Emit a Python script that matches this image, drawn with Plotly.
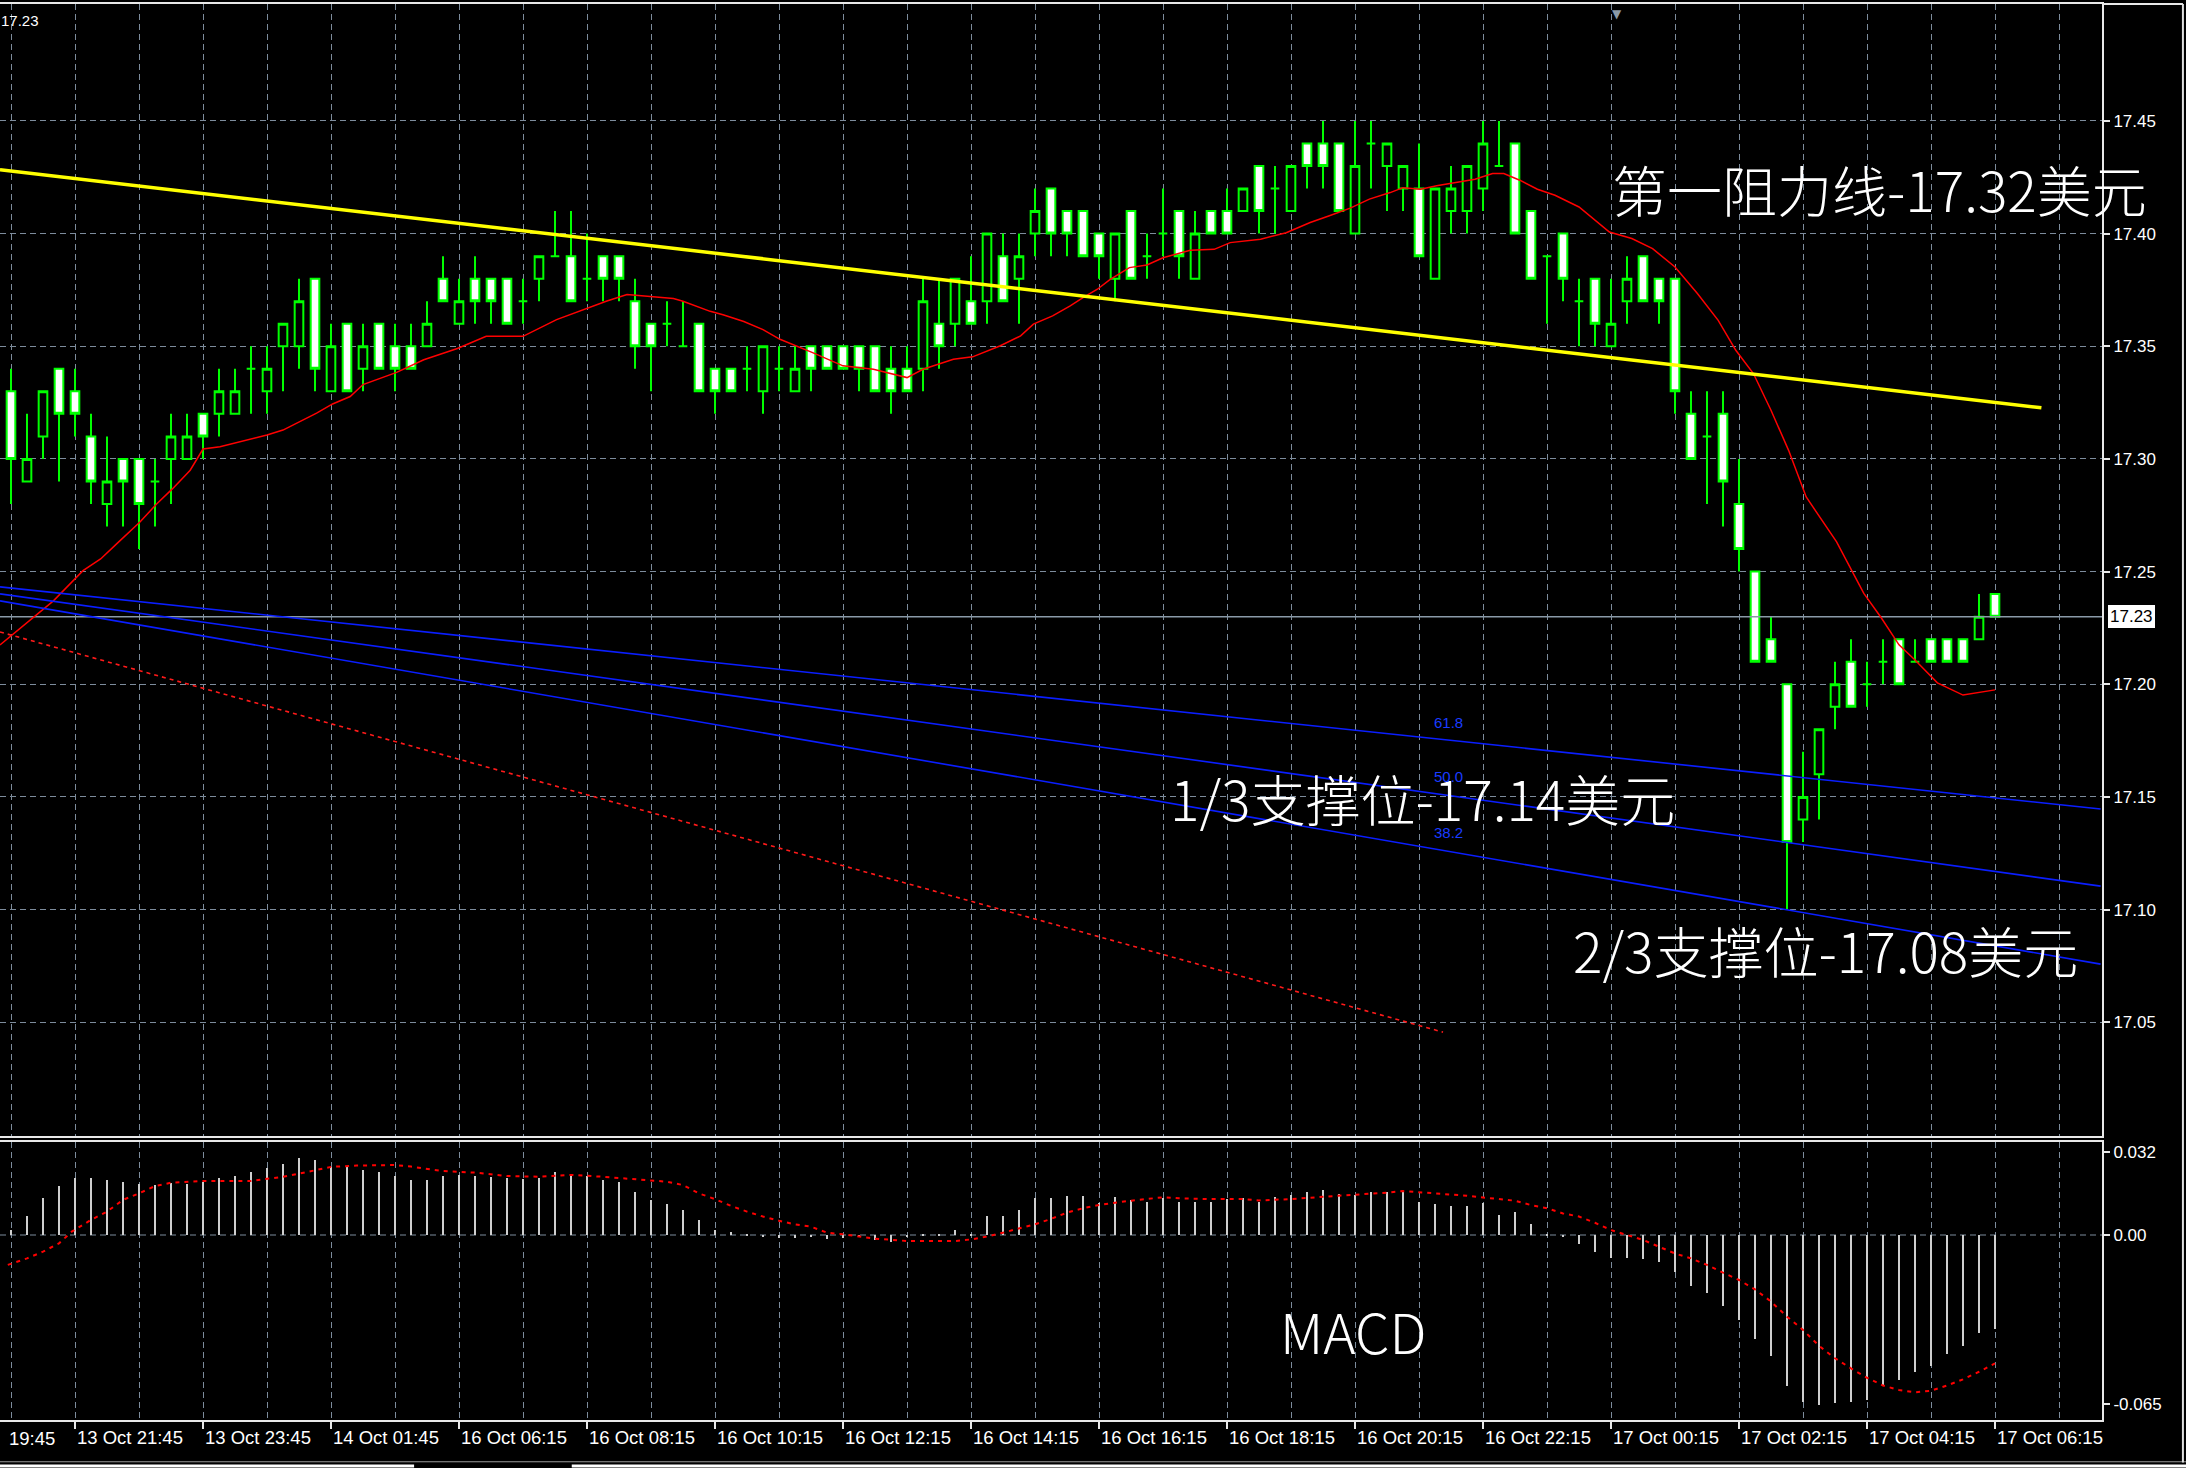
import plotly.graph_objects as go

# ---------------- data ----------------
bars = list(range(125))
opens = [17.33,17.29,17.31,17.34,17.33,17.31,17.28,17.30,17.30,17.29,
         17.30,17.30,17.32,17.32,17.32,17.34,17.33,17.35,17.35,17.38,
         17.33,17.36,17.34,17.36,17.35,17.35,17.35,17.38,17.36,17.38,
         17.38,17.38,17.37,17.38,17.39,17.39,17.38,17.39,17.39,17.37,
         17.36,17.36,17.35,17.36,17.34,17.34,17.34,17.33,17.34,17.33,
         17.35,17.35,17.35,17.35,17.35,17.34,17.34,17.34,17.36,17.36,
         17.37,17.37,17.39,17.38,17.40,17.42,17.41,17.41,17.40,17.38,
         17.41,17.39,17.40,17.41,17.38,17.41,17.41,17.41,17.43,17.42,
         17.41,17.44,17.44,17.44,17.40,17.44,17.43,17.42,17.42,17.38,
         17.41,17.41,17.42,17.43,17.44,17.41,17.39,17.40,17.37,17.38,
         17.35,17.37,17.39,17.38,17.38,17.32,17.31,17.32,17.28,17.25,
         17.22,17.20,17.14,17.16,17.19,17.21,17.20,17.21,17.22,17.21,
         17.22,17.22,17.22,17.22,17.24]
highs = [17.34,17.32,17.33,17.34,17.34,17.32,17.31,17.30,17.30,17.30,
         17.32,17.32,17.32,17.34,17.34,17.35,17.35,17.36,17.38,17.38,
         17.36,17.36,17.36,17.36,17.36,17.36,17.37,17.39,17.38,17.39,
         17.38,17.38,17.38,17.39,17.41,17.41,17.40,17.39,17.39,17.38,
         17.36,17.37,17.37,17.36,17.34,17.34,17.35,17.35,17.35,17.35,
         17.35,17.35,17.35,17.35,17.35,17.35,17.35,17.38,17.38,17.38,
         17.39,17.40,17.40,17.40,17.42,17.42,17.41,17.41,17.40,17.40,
         17.41,17.40,17.42,17.41,17.41,17.41,17.42,17.42,17.43,17.43,
         17.43,17.44,17.45,17.44,17.45,17.45,17.44,17.43,17.44,17.42,
         17.43,17.43,17.45,17.45,17.44,17.41,17.39,17.40,17.38,17.38,
         17.38,17.39,17.39,17.38,17.38,17.33,17.33,17.33,17.30,17.25,
         17.23,17.20,17.17,17.18,17.21,17.22,17.21,17.22,17.22,17.22,
         17.22,17.22,17.22,17.24,17.24]
lows = [17.28,17.29,17.30,17.29,17.31,17.28,17.27,17.27,17.26,17.27,
        17.28,17.30,17.30,17.31,17.32,17.32,17.32,17.33,17.34,17.33,
        17.33,17.33,17.33,17.34,17.33,17.34,17.35,17.37,17.36,17.36,
        17.36,17.36,17.36,17.37,17.39,17.37,17.37,17.37,17.37,17.34,
        17.33,17.35,17.35,17.33,17.32,17.33,17.33,17.32,17.33,17.33,
        17.33,17.34,17.34,17.33,17.33,17.32,17.33,17.33,17.34,17.35,
        17.36,17.36,17.37,17.36,17.39,17.39,17.39,17.39,17.38,17.37,
        17.38,17.38,17.39,17.38,17.38,17.40,17.40,17.41,17.40,17.40,
        17.41,17.42,17.42,17.41,17.40,17.42,17.41,17.41,17.39,17.38,
        17.40,17.40,17.41,17.43,17.40,17.38,17.36,17.37,17.35,17.35,
        17.35,17.36,17.37,17.36,17.32,17.30,17.28,17.27,17.25,17.21,
        17.21,17.10,17.13,17.14,17.18,17.19,17.19,17.20,17.20,17.21,
        17.21,17.21,17.21,17.22,17.23]
closes = [17.30,17.30,17.33,17.32,17.32,17.29,17.29,17.29,17.28,17.29,
          17.31,17.31,17.31,17.33,17.33,17.34,17.34,17.36,17.37,17.34,
          17.35,17.33,17.35,17.34,17.34,17.34,17.36,17.37,17.37,17.37,
          17.37,17.36,17.37,17.39,17.39,17.37,17.38,17.38,17.38,17.35,
          17.35,17.36,17.35,17.33,17.33,17.33,17.34,17.35,17.34,17.34,
          17.34,17.34,17.34,17.34,17.33,17.33,17.33,17.37,17.35,17.38,
          17.36,17.40,17.37,17.39,17.41,17.40,17.40,17.39,17.39,17.40,
          17.38,17.39,17.40,17.39,17.40,17.40,17.40,17.42,17.41,17.42,
          17.43,17.43,17.43,17.41,17.43,17.44,17.44,17.43,17.39,17.42,
          17.42,17.43,17.44,17.43,17.40,17.38,17.39,17.38,17.37,17.36,
          17.36,17.38,17.37,17.37,17.33,17.30,17.31,17.29,17.26,17.21,
          17.21,17.13,17.15,17.18,17.20,17.19,17.20,17.21,17.20,17.21,
          17.21,17.21,17.21,17.23,17.23]

ma_x = [-0.69,2.65,4.5,5.6,6.6,8.06,9.1,10.1,11.2,12.0,13.06,14.3,16,17,18.1,19.1,20.1,
        21.2,22,23.1,24.1,25.8,27.9,29.7,32,34.1,35.8,37.2,38.5,39.9,41.4,42.0,43.7,
        44.5,45.8,47.0,48.06,50.1,52.0,53.9,56.0,57.0,58.9,60.1,61.8,63.1,63.9,65.1,
        66.2,67.0,67.9,68.7,69.9,71.0,72.0,73.7,75.2,76.2,78.1,79.7,81.2,82.4,83.7,
        84.9,86.2,87.0,88.1,89.1,90.3,91.5,92.6,93.3,94.3,95.4,96.5,98.0,99.9,101.3,
        102.6,104.0,105.4,106.7,107.8,108.9,110.0,111.1,112.2,114.1,115.8,116.9,
        118.0,119.0,120.4,122.0,124.0]
ma_y = [17.2174,17.237,17.2504,17.2556,17.2623,17.272,17.280,17.2868,17.295,17.3044,
        17.3054,17.3077,17.3106,17.3128,17.3166,17.3203,17.3244,17.3277,17.333,17.3359,
        17.3384,17.344,17.349,17.3544,17.3544,17.3618,17.3663,17.37,17.373,17.3722,
        17.3712,17.370,17.3655,17.364,17.361,17.3574,17.3531,17.3472,17.3413,17.3398,
        17.3361,17.3398,17.3442,17.3453,17.3501,17.3546,17.3598,17.3635,17.3679,17.3716,
        17.3753,17.3797,17.3849,17.3861,17.3893,17.3926,17.393,17.396,17.3975,17.4004,
        17.4049,17.4079,17.4113,17.4153,17.4182,17.4204,17.4197,17.4212,17.4227,17.4241,
        17.4267,17.4267,17.4237,17.4197,17.417,17.4118,17.4007,17.3978,17.3933,17.3852,
        17.3734,17.3615,17.3482,17.3379,17.3216,17.3038,17.2831,17.2632,17.2403,17.2294,
        17.2175,17.2108,17.2006,17.1952,17.1975]

macd_hist = [0.0020,0.0073,0.0142,0.0187,0.0218,0.0218,0.0212,0.0204,0.0195,0.0192,
             0.0199,0.0196,0.0205,0.0218,0.0227,0.0244,0.0256,0.0272,0.0295,0.0288,
             0.0263,0.0263,0.0250,0.0242,0.0227,0.0212,0.0212,0.0227,0.0231,0.0227,
             0.0224,0.0221,0.0214,0.0218,0.0242,0.0231,0.0227,0.0212,0.0204,0.0165,
             0.0135,0.0118,0.0096,0.0058,0.0020,0.0010,0.0003,-0.0005,-0.0010,-0.0010,
             -0.0006,-0.0017,-0.0010,-0.0009,-0.0019,-0.0026,-0.0004,0.0002,0.0005,0.0019,
             0.0005,0.0073,0.0073,0.0096,0.0141,0.0141,0.0150,0.0150,0.0122,0.0147,
             0.0135,0.0128,0.0141,0.0128,0.0128,0.0128,0.0137,0.0141,0.0128,0.0147,
             0.0154,0.0167,0.0173,0.0158,0.0154,0.0167,0.0167,0.0167,0.0128,0.0118,
             0.0112,0.0112,0.0122,0.0077,0.0090,0.0042,0.0003,-0.0005,-0.0035,-0.0064,
             -0.0087,-0.0087,-0.0094,-0.0104,-0.0141,-0.0195,-0.0224,-0.0272,-0.0327,-0.0401,
             -0.0465,-0.0581,-0.0641,-0.0654,-0.0647,-0.0641,-0.0635,-0.0577,-0.0558,-0.0526,
             -0.0504,-0.0458,-0.0427,-0.0378,-0.0363]

sig_x = [-0.2,1,2,3,3.8,5,6,7,8,9,10,12,15,16,17,18.4,20,21.6,24,25,27,29,31,33,35,37,39,
         41,42,43,44,45,46,47,48,49,50,51,52,53,54,56,59,60,61,62,63,64,65,66,67,68,69,70,
         72,73,75,77,78,80,82,84,86,87,89,91,93,94,95,96,97,98,99,100,101,102,103,104,105,
         106,107,108,109,110,111,112,113,114,115,116,117,118,119,120,121,122,123,124]
sig_y = [-0.0115,-0.0090,-0.0064,-0.0032,0.0013,0.0058,0.0090,0.0135,0.0160,0.0188,0.0201,
         0.0208,0.0208,0.0215,0.0224,0.0241,0.0262,0.0267,0.0269,0.0263,0.0246,0.0240,
         0.0227,0.0224,0.0231,0.0224,0.0215,0.0205,0.0192,0.0160,0.0138,0.0112,0.0090,
         0.0071,0.0055,0.0041,0.0032,0.0009,0.0003,-0.0006,-0.0014,-0.0023,-0.0023,-0.0017,
         -0.0006,0.0009,0.0026,0.0041,0.0062,0.0086,0.0103,0.0115,0.0124,0.0132,0.0145,
         0.0141,0.0138,0.0138,0.0133,0.0138,0.0147,0.0154,0.0163,0.0169,0.0160,0.0151,
         0.0138,0.0132,0.0115,0.0103,0.0083,0.0071,0.0047,0.0019,0.0000,-0.0019,-0.0045,
         -0.0071,-0.0090,-0.0115,-0.0145,-0.0173,-0.0209,-0.0256,-0.0314,-0.0365,-0.0426,
         -0.0474,-0.0513,-0.0549,-0.0579,-0.0596,-0.0605,-0.0599,-0.0579,-0.0555,-0.0526,
         -0.0494]

# trend objects: (bar, price) end points
resist_x = [-0.6875, 126.9]
resist_y = [17.4283, 17.3227]
fan_x = [-0.6875, 130.6]
fan618_y = [17.2432, 17.1446]
fan500_y = [17.2401, 17.1104]
fan382_y = [17.2370, 17.0758]
base_x = [-0.6875, 89.5]
base_y = [17.2232, 17.0456]
last_price = 17.23

tick_bars = [4,12,20,28,36,44,52,60,68,76,84,92,100,108,116,124]
tick_text = ["13 Oct 21:45","13 Oct 23:45","14 Oct 01:45","16 Oct 06:15","16 Oct 08:15",
             "16 Oct 10:15","16 Oct 12:15","16 Oct 14:15","16 Oct 16:15","16 Oct 18:15",
             "16 Oct 20:15","16 Oct 22:15","17 Oct 00:15","17 Oct 02:15","17 Oct 04:15",
             "17 Oct 06:15"]
price_ticks = [17.05,17.10,17.15,17.20,17.25,17.30,17.35,17.40,17.45]
macd_ticks = [0.032, 0.0, -0.065]
macd_tick_text = ["0.032", "0.00", "-0.065"]

# ---------------- figure ----------------
GRID = "#7d8c9c"
GREEN = "#00ff00"
TFONT = "Liberation Sans, Arial, sans-serif"
CJK = "Noto Sans CJK SC Light, Noto Sans CJK SC, sans-serif"

fig = go.Figure()

fig.add_trace(go.Scatter(x=[-1, 131], y=[last_price, last_price], mode="lines",
                         line=dict(color="#8a9aa8", width=1.5), hoverinfo="skip"))

fig.add_trace(go.Candlestick(
    x=bars, open=opens, high=highs, low=lows, close=closes,
    increasing=dict(line=dict(color=GREEN, width=2), fillcolor="#000000"),
    decreasing=dict(line=dict(color=GREEN, width=2), fillcolor="#ffffff"),
    whiskerwidth=0, hoverinfo="skip"))

fig.add_trace(go.Scatter(x=ma_x, y=ma_y, mode="lines",
                         line=dict(color="#ff0000", width=1.5), hoverinfo="skip"))
fig.add_trace(go.Scatter(x=resist_x, y=resist_y, mode="lines",
                         line=dict(color="#ffff00", width=3.5), hoverinfo="skip"))
for fy in (fan618_y, fan500_y, fan382_y):
    fig.add_trace(go.Scatter(x=fan_x, y=fy, mode="lines",
                             line=dict(color="#0a1eff", width=1.6), hoverinfo="skip"))
fig.add_trace(go.Scatter(x=base_x, y=base_y, mode="lines",
                         line=dict(color="#ff1a1a", width=1.6, dash="4px,4px"),
                         hoverinfo="skip"))

fig.add_trace(go.Bar(x=bars, y=macd_hist, xaxis="x2", yaxis="y2", width=0.13,
                     marker=dict(color="#cfcfcf", line=dict(width=0)), hoverinfo="skip"))
fig.add_trace(go.Scatter(x=sig_x, y=sig_y, xaxis="x2", yaxis="y2", mode="lines",
                         line=dict(color="#ff0000", width=2, dash="4px,5px"),
                         hoverinfo="skip"))

xr = [-0.6875, 130.6875]
common_x = dict(range=xr, showgrid=True, gridcolor=GRID, griddash="6px,4px", gridwidth=1,
                zeroline=False, showline=True, linecolor="#e8e8e8", linewidth=2, mirror=True,
                tickvals=tick_bars, minor=dict(tick0=0, dtick=4, showgrid=True, gridcolor=GRID,
                                               griddash="6px,4px", gridwidth=1),
                rangeslider=dict(visible=False), fixedrange=True)

fig.update_layout(
    width=2186, height=1468,
    margin=dict(l=0, r=84, t=4, b=48),
    paper_bgcolor="#000000", plot_bgcolor="#000000",
    showlegend=False, bargap=0, boxgap=0.25, boxgroupgap=0.28,
    xaxis=dict(domain=[0, 1], anchor="y", showticklabels=False, ticks="", **common_x),
    xaxis2=dict(domain=[0, 1], anchor="y2", matches="x", ticktext=tick_text,
                ticks="outside", ticklen=7, tickcolor="#e8e8e8", tickwidth=2,
                ticklabelposition="outside right",
                tickfont=dict(family=TFONT, size=18.5, color="#ffffff"), **common_x),
    yaxis=dict(domain=[0.20056, 1], anchor="x", side="right", range=[16.9995, 17.5019],
               tickvals=price_ticks, ticktext=[f"{v:.2f}" for v in price_ticks],
               ticks="outside", ticklen=6, tickcolor="#e8e8e8", tickwidth=1.5,
               tickfont=dict(family=TFONT, size=17, color="#ffffff"),
               showgrid=True, gridcolor=GRID, griddash="6px,4px", gridwidth=1,
               zeroline=False, showline=True, linecolor="#e8e8e8", linewidth=2,
               fixedrange=True),
    yaxis2=dict(domain=[0, 0.19633], anchor="x2", side="right", range=[-0.07115, 0.03577],
                tickvals=macd_ticks, ticktext=macd_tick_text,
                ticks="outside", ticklen=6, tickcolor="#e8e8e8", tickwidth=1.5,
                tickfont=dict(family=TFONT, size=17, color="#ffffff"),
                showgrid=False, zeroline=False, showline=True, linecolor="#e8e8e8",
                linewidth=2, fixedrange=True),
)

# zero line of MACD window
fig.add_shape(type="line", xref="x2 domain", x0=0, x1=1, yref="y2", y0=0, y1=0,
              line=dict(color=GRID, width=1, dash="6px,4px"), layer="below")
# bottom tab strip / window frame
fig.add_shape(type="line", xref="paper", yref="paper", x0=0, x1=1.04, y0=-0.0295, y1=-0.0295,
              line=dict(color="#9a9a9a", width=1))
fig.add_shape(type="line", xref="paper", yref="paper", x0=0, x1=0.197, y0=-0.0325, y1=-0.0325,
              line=dict(color="#ffffff", width=3))
fig.add_shape(type="line", xref="paper", yref="paper", x0=0.272, x1=1.04, y0=-0.0325, y1=-0.0325,
              line=dict(color="#ffffff", width=3))
fig.add_shape(type="line", xref="paper", yref="paper", x0=1.0385, x1=1.0385, y0=-0.03, y1=1.0,
              line=dict(color="#e0e0e0", width=2))
fig.add_shape(type="line", xref="paper", yref="paper", x0=1.0, x1=1.0385, y0=1.0, y1=1.0,
              line=dict(color="#e8e8e8", width=2))

ann = []
ann.append(dict(text="第一阻力线-17.32美元", x=116.8, y=17.4203, xref="x", yref="y",
                showarrow=False, font=dict(family=CJK, size=55, color="#ffffff", weight=300)))
ann.append(dict(text="1/3支撑位-17.14美元", x=88.2, y=17.150, xref="x", yref="y",
                showarrow=False, font=dict(family=CJK, size=55, color="#ffffff", weight=300)))
ann.append(dict(text="2/3支撑位-17.08美元", x=113.4, y=17.0825, xref="x", yref="y",
                showarrow=False, font=dict(family=CJK, size=55, color="#ffffff", weight=300)))
ann.append(dict(text="MACD", x=83.9, y=-0.0365, xref="x2", yref="y2",
                showarrow=False, font=dict(family=CJK, size=55, color="#ffffff", weight=300)))
for lab, yy in (("61.8", 17.1832), ("50.0", 17.1590), ("38.2", 17.1342)):
    ann.append(dict(text=lab, x=88.8, y=yy, xref="x", yref="y", xanchor="left",
                    showarrow=False, font=dict(family=TFONT, size=15, color="#1a3cff")))
ann.append(dict(text="17.23", x=0, y=17.4948, xref="paper", yref="y", xanchor="left",
                xshift=-1, showarrow=False, font=dict(family=TFONT, size=15, color="#ffffff")))
ann.append(dict(text=f"{last_price:.2f}", x=1, y=last_price, xref="paper", yref="y",
                xanchor="left", xshift=6, showarrow=False, bgcolor="#ffffff",
                bordercolor="#ffffff", borderpad=1,
                font=dict(family=TFONT, size=17, color="#000000")))
ann.append(dict(text="19:45", x=0.0033, y=-0.0134, xref="paper", yref="paper",
                xanchor="left", yanchor="middle", showarrow=False,
                font=dict(family=TFONT, size=18.5, color="#ffffff")))
ann.append(dict(text="▼", x=100.4, y=17.5015, xref="x", yref="y", yanchor="top",
                showarrow=False, font=dict(family="DejaVu Sans", size=12, color="#8a9aa8")))
fig.update_layout(annotations=ann)

fig.write_html("out.html", config={"displayModeBar": False},
               post_script="document.body.style.margin='0px';"
                           "document.body.style.overflow='hidden';")
